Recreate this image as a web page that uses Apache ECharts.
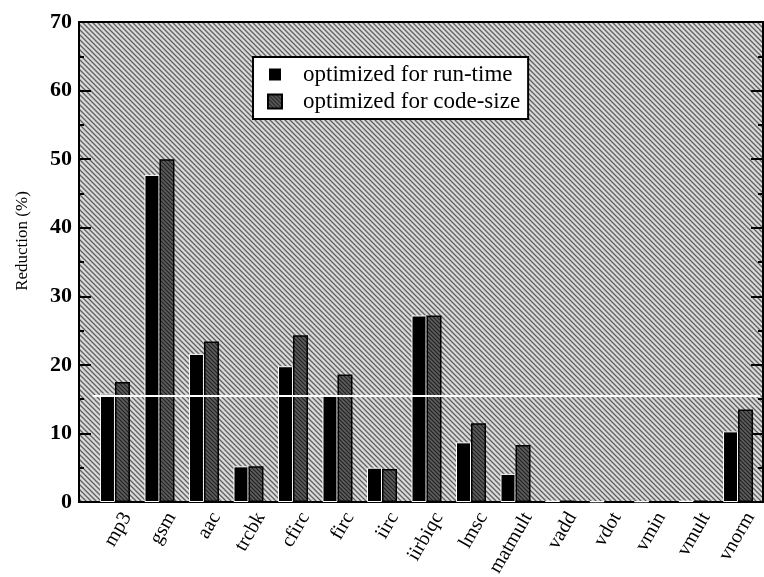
<!DOCTYPE html>
<html><head><meta charset="utf-8">
<script src="https://cdn.jsdelivr.net/npm/echarts@6/dist/echarts.min.js"></script>
<style>html,body{margin:0;padding:0;background:#fff}#c{width:764px;height:577px}</style>
</head><body><div id="c"></div>
<script>
const categories = ['mp3','gsm','aac','trcbk','cfirc','firc','iirc','iirbiqc','lmsc','matmult','vadd','vdot','vmin','vmult','vnorm'];
const runTime  = [15.8, 47.7, 21.6, 5.2, 19.8, 15.6, 5.0, 27.2, 8.7, 4.1, 0.2, 0.1, 0.1, 0.2, 10.3];
const codeSize = [17.5, 50.0, 23.4, 5.2, 24.3, 18.6, 4.8, 27.2, 11.5, 8.3, 0.2, 0.1, 0.1, 0.2, 13.5];
const seriesNames = ['optimized for run-time', 'optimized for code-size'];
const yTicks = {min: 0, max: 70, interval: 10};
const artifactLine = 15.5;

function hatch(bg, fg, size, lw) {
  const c = document.createElement('canvas');
  c.width = size; c.height = size;
  const g = c.getContext('2d');
  g.fillStyle = bg; g.fillRect(0, 0, size, size);
  g.strokeStyle = fg; g.lineWidth = lw;
  g.beginPath();
  g.moveTo(-1, -1); g.lineTo(size + 1, size + 1);
  g.moveTo(-1, size - 1); g.lineTo(1, size + 1);
  g.moveTo(size - 1, -1); g.lineTo(size + 1, 1);
  g.stroke();
  return {image: c, repeat: 'repeat'};
}
const bgPattern = hatch('#dadada', '#606060', 5, 1.3);
const codePattern = hatch('#5e5e5e', '#222', 4, 1.2);

const serif = '"Liberation Serif", "DejaVu Serif", serif';
const chart = echarts.init(document.getElementById('c'), null, {renderer: 'canvas'});
chart.setOption({
  animation: false,
  backgroundColor: '#fff',
  grid: [
    {left: 79, right: 1, top: 22, bottom: 75, outerBoundsMode: 'none', containLabel: false,
     show: true, backgroundColor: bgPattern, borderColor: '#000', borderWidth: 2},
    {left: 92.7, right: 3.7, top: 22, bottom: 75, outerBoundsMode: 'none', containLabel: false}
  ],
  legend: {
    orient: 'vertical', left: 253, top: 57,
    padding: [6, 8, 6, 14], itemGap: 4,
    itemWidth: 14, itemHeight: 14,
    backgroundColor: '#fff', borderColor: '#000', borderWidth: 2,
    textStyle: {fontFamily: serif, fontSize: 23, color: '#000', padding: [0, 0, 0, 16]},
    data: [
      {name: seriesNames[0], icon: 'rect'},
      {name: seriesNames[1], icon: 'rect'}
    ]
  },
  xAxis: [
    {gridIndex: 0, type: 'value', min: 0, max: 1, show: false},
    {gridIndex: 1, type: 'category', data: categories,
     axisLine: {show: false}, axisTick: {show: false},
     axisLabel: {interval: 0, rotate: 60, margin: 5, align: 'right', verticalAlign: 'top', lineHeight: 28,
                 fontFamily: serif, fontSize: 20, color: '#000'}}
  ],
  yAxis: [
    {gridIndex: 0, type: 'value', min: yTicks.min, max: yTicks.max, interval: yTicks.interval,
     name: 'Reduction (%)', nameLocation: 'middle', nameGap: 48, nameRotate: 90,
     nameTextStyle: {fontFamily: serif, fontSize: 17, color: '#000', padding: [0, 0, 0, 42]},
     axisLine: {show: true, lineStyle: {color: '#000', width: 2}},
     axisTick: {show: true, inside: true, length: 12, lineStyle: {color: '#000', width: 2}},
     minorTick: {show: true, splitNumber: 2, length: 5, lineStyle: {color: '#000', width: 2}},
     splitLine: {show: false},
     axisLabel: {fontFamily: serif, fontSize: 22, fontWeight: 'bold', color: '#000', margin: 7}},
    {gridIndex: 0, type: 'value', position: 'right', min: yTicks.min, max: yTicks.max, interval: yTicks.interval,
     axisLine: {show: true, lineStyle: {color: '#000', width: 2}},
     axisTick: {show: true, inside: true, length: 12, lineStyle: {color: '#000', width: 2}},
     minorTick: {show: true, splitNumber: 2, length: 5, lineStyle: {color: '#000', width: 2}},
     splitLine: {show: false}, axisLabel: {show: false}},
    {gridIndex: 1, type: 'value', min: yTicks.min, max: yTicks.max, interval: yTicks.interval, show: false}
  ],
  series: [
    {name: seriesNames[0], type: 'bar', xAxisIndex: 1, yAxisIndex: 2, data: runTime,
     barWidth: 15, barGap: '0%',
     itemStyle: {color: '#000', borderColor: '#fff', borderWidth: 1},
     markLine: {silent: true, symbol: 'none', label: {show: false},
       lineStyle: {color: '#fff', width: 2, type: 'solid'},
       data: [{yAxis: artifactLine}]}},
    {name: seriesNames[1], type: 'bar', xAxisIndex: 1, yAxisIndex: 2, data: codeSize,
     barWidth: 15,
     itemStyle: {color: codePattern, borderColor: '#000', borderWidth: 1.5}}
  ]
});
</script>
</body></html>
